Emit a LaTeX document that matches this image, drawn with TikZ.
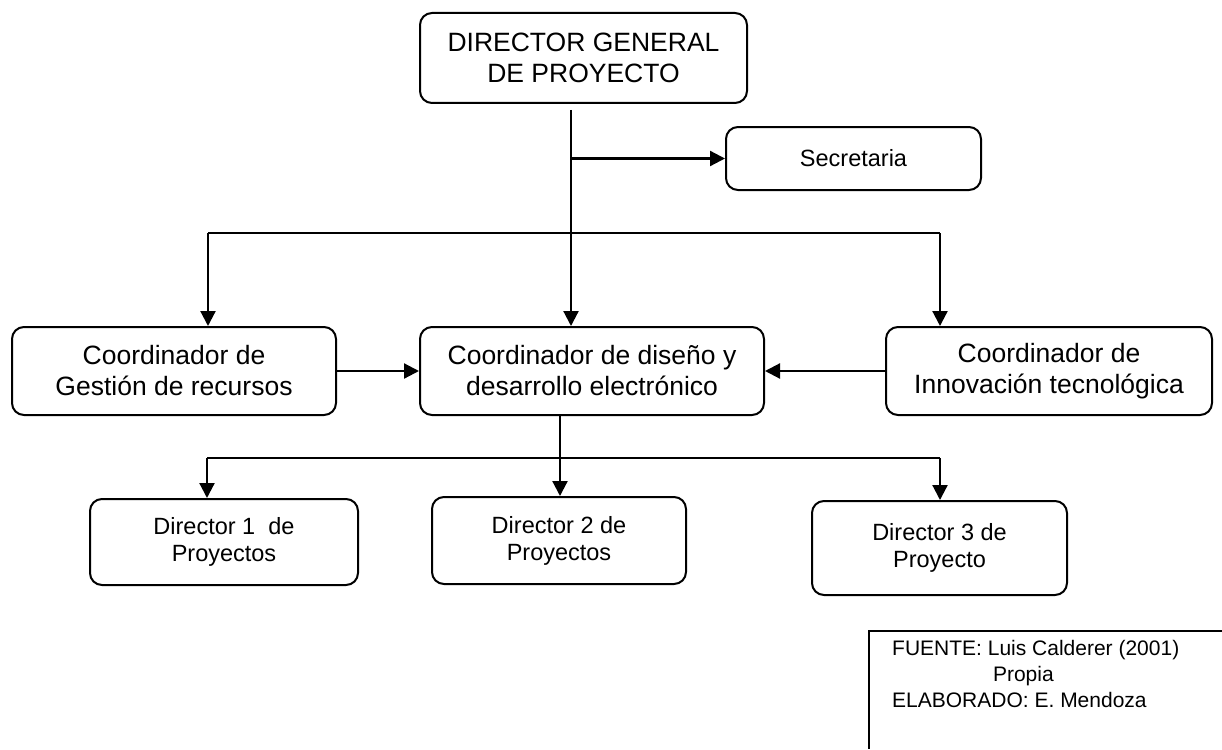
\documentclass[tikz,border=0pt]{standalone}
\usepackage{fontspec}
\setmainfont{Liberation Sans}
\usepackage{tikz}
\usetikzlibrary{arrows.meta}

\tikzset{
  box/.style = {draw, rounded corners=12pt, line width=2pt, align=center, inner sep=0pt},
  bigbox/.style = {box, font=\fontsize{26.5pt}{31pt}\selectfont},
  smallbox/.style = {box, font=\fontsize{23.5pt}{27pt}\selectfont},
  arrow/.style = {line width=2.2pt, -{Triangle[length=15pt,width=15pt]}},
  bus/.style = {line width=1.8pt}
}

\begin{document}
\begin{tikzpicture}[x=1pt,y=-1pt]
\useasboundingbox (0,0) rectangle (1222,749);

% -- top
\node[bigbox, minimum width=327pt, minimum height=90pt] (dg) at (583.5,58) {DIRECTOR GENERAL\\DE PROYECTO};
\node[smallbox, minimum width=255pt, minimum height=63pt] (sec) at (853.5,158.5) {Secretaria};

% -- coordinadores
\node[bigbox, minimum width=324pt, minimum height=88pt] (cges) at (174,371) {Coordinador de\\Gestión de recursos};
\node[bigbox, minimum width=344pt, minimum height=88pt] (cdis) at (592,371) {Coordinador de diseño y\\desarrollo electrónico};
\node[bigbox, minimum width=326pt, minimum height=88pt] (cinn) at (1049,371) {Coordinador de\\Innovación tecnológica};

% -- directores
\node[smallbox, minimum width=268pt, minimum height=86pt] (dir1) at (224,542) {Director 1~ de\\Proyectos};
\node[smallbox, minimum width=254pt, minimum height=87pt] (dir2) at (559,540.5) {Director 2 de\\Proyectos};
\node[smallbox, minimum width=255pt, minimum height=94pt] (dir3) at (939.5,548) {Director 3 de\\Proyecto};

% -- lines from director general
\coordinate (dgout) at (571,110);
\coordinate (busL) at (208,233);
\coordinate (busR) at (940,233);
\draw[arrow] (dgout) -- (dgout |- cdis.north);
\draw[arrow] (dgout |- sec.west) -- (sec.west);
\draw[bus] (busL) -- (busR);
\draw[arrow] (busL) -- (busL |- cges.north);
\draw[arrow] (busR) -- (busR |- cinn.north);

% -- side coordinators into center
\draw[arrow] (cges.east) -- (cdis.west);
\draw[arrow] (cinn.west) -- (cdis.east);

% -- lines to directors
\coordinate (cdout) at (560,415);
\coordinate (lowL) at (207,458);
\coordinate (lowR) at (940,458);
\draw[arrow] (cdout) -- (cdout |- dir2.north);
\draw[bus] (lowL) -- (lowR);
\draw[arrow] (lowL) -- (lowL |- dir1.north);
\draw[arrow] (lowR) -- (lowR |- dir3.north);

% -- fuente
\draw[line width=2pt] (1222,631) -- (869,631) -- (869,749);
\node[anchor=north west, align=left, inner sep=0pt, font=\fontsize{21pt}{26pt}\selectfont] (fuente) at (892,640)
  {FUENTE: Luis Calderer (2001)\\\hspace*{4.8em}Propia\\ELABORADO: E. Mendoza};

\end{tikzpicture}
\end{document}
